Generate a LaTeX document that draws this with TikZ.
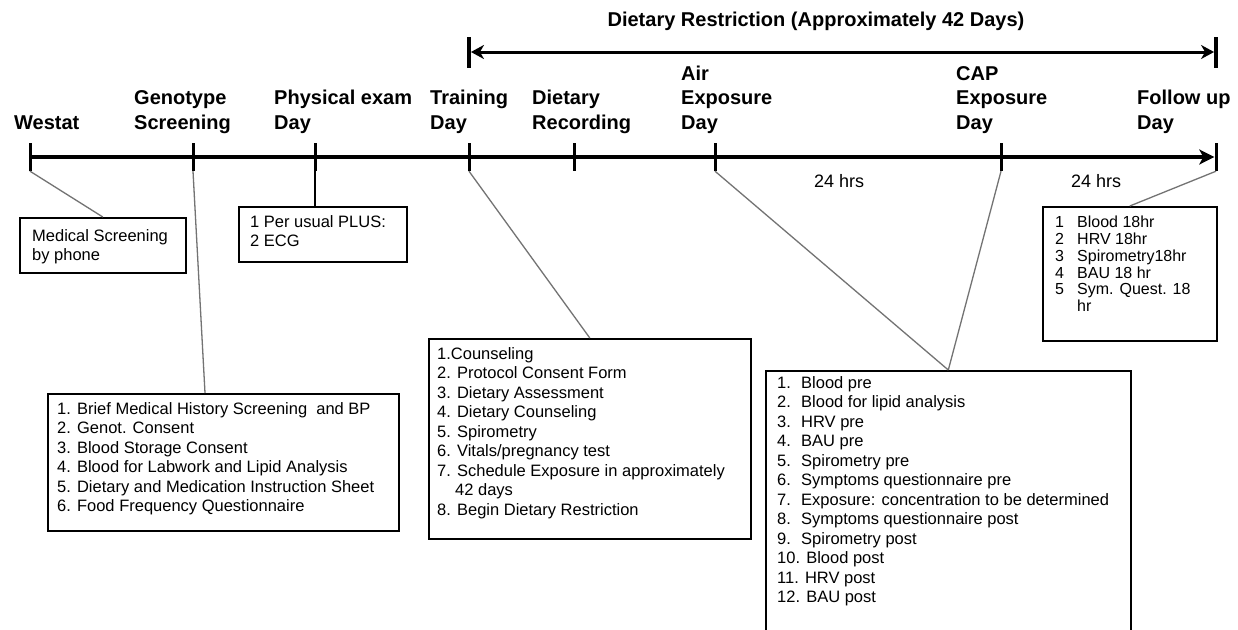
\documentclass[tikz,border=0pt]{standalone}
\usepackage{fontspec}
\setmainfont{Liberation Sans}
\usetikzlibrary{arrows.meta,positioning}

\begin{document}
\begin{tikzpicture}[
        x = 1pt,
        y = -1pt,
        tick/.style = {
                fill=black,
                minimum width=3pt,
                minimum height=28pt,
                inner sep=0pt,
            },
        bar/.style = {
                fill=black,
                minimum width=3.5pt,
                minimum height=31pt,
                inner sep=0pt,
            },
        daylbl/.style = {
                anchor=base west,
                align=left,
                inner sep=0pt,
                font=\fontsize{20}{24.5}\selectfont\bfseries,
            },
        frame/.style = {
                draw,
                line width=1.6pt,
                inner sep=0pt,
                anchor=north west,
            },
        itemtxt/.style = {
                anchor=north west,
                align=left,
                inner sep=0pt,
                font=\fontsize{16.5}{19.5}\selectfont,
            },
        hrs/.style = {
                inner sep=0pt,
                font=\fontsize{18}{20}\selectfont,
            },
        link/.style = {
                draw=black!55,
                line width=1.3pt,
            },
    ]
    \useasboundingbox (0,0) rectangle (1238,629);
    \clip (0,0) rectangle (1238,629);
    \fill[white] (0,0) rectangle (1238,629);

    \node[daylbl, anchor=base] (ttl) at (816,27) {Dietary Restriction (Approximately 42 Days)};
    \node[bar] (B-1) at (469,52) {};
    \node[bar] (B-2) at (1216,52) {};
    \draw[line width=3pt,
    {Stealth[length=13pt,width=14pt,inset=4pt]}-{Stealth[length=13pt,width=14pt,inset=4pt]}]
    (B-1.east) -- (B-2.west);

    \foreach \x [count=\j] in {30,193,315,469,574,715,1001,1216}
    \node[tick] (T-\j) at (\x,157) {};
    \draw[line width=4.5pt, -{Stealth[length=15pt,width=15pt,inset=4pt]}]
    (T-1.center) -- (T-8.west);

    \node[daylbl] (L-1) at (14,129) {Westat};
    \node[daylbl] (L-2) at (134,129) {Genotype\\Screening};
    \node[daylbl] (L-3) at (274,129) {Physical exam\\Day};
    \node[daylbl] (L-4) at (430,129) {Training\\Day};
    \node[daylbl] (L-5) at (532,129) {Dietary\\Recording};
    \node[daylbl] (L-6) at (681,129) {Air\\Exposure\\Day};
    \node[daylbl] (L-7) at (956,129) {CAP\\Exposure\\Day};
    \node[daylbl] (L-8) at (1137,129) {Follow up\\Day};
    \node[hrs] (H-1) at (839,181) {24 hrs};
    \node[hrs] (H-2) at (1096,181) {24 hrs};

    \begin{scope}[every node/.append style={frame}]
        \node[minimum width=166pt, minimum height=55pt] (bxMed) at (19,217) {};
        \node[minimum width=168pt, minimum height=55pt] (bxPhys) at (238,206) {};
        \node[minimum width=351pt, minimum height=137pt] (bxGen) at (47,393) {};
        \node[minimum width=322pt, minimum height=200pt] (bxTrn) at (428,338) {};
        \node[minimum width=365pt, minimum height=290pt] (bxExp) at (765,370) {};
        \node[minimum width=174pt, minimum height=134pt] (bxFol) at (1042,206) {};
    \end{scope}

    \draw[link] (T-1.south) -- (bxMed.north);
    \draw[link] (T-2.south) -- ([xshift=158pt]bxGen.north west);
    \draw[link, draw=black] (T-3.south) -- (T-3.south |- bxPhys.north);
    \draw[link] (T-4.south) -- (bxTrn.north);
    \draw[link] (T-6.south) -- (bxExp.north);
    \draw[link] (T-7.south) -- (bxExp.north);
    \draw[link] (T-8.south) -- (bxFol.north);

    \node[itemtxt] (txMed) at ([shift={(13,12)}]bxMed.north west) {Medical Screening\\by phone};
    \node[itemtxt] (txPhys) at ([shift={(12,9)}]bxPhys.north west) {1 Per usual PLUS:\\2 ECG};
    \node[itemtxt] (txGen) at ([shift={(10,9)}]bxGen.north west) {
        1. Brief Medical History Screening \ and BP\\
        2. Genot. Consent\\
        3. Blood Storage Consent\\
        4. Blood for Labwork and Lipid Analysis\\
        5. Dietary and Medication Instruction Sheet\\
        6. Food Frequency Questionnaire};
    \node[itemtxt] (txTrn) at ([shift={(9,9)}]bxTrn.north west) {
        1.Counseling\\
        2. Protocol Consent Form\\
        3. Dietary Assessment\\
        4. Dietary Counseling\\
        5. Spirometry\\
        6. Vitals/pregnancy test\\
        7. Schedule Exposure in approximately\\
        \hspace*{18pt}42 days\\
        8. Begin Dietary Restriction};
    \node[itemtxt] (txExp) at ([shift={(12,6)}]bxExp.north west) {
        \makebox[24pt][l]{1.}Blood pre\\
        \makebox[24pt][l]{2.}Blood for lipid analysis\\
        \makebox[24pt][l]{3.}HRV pre\\
        \makebox[24pt][l]{4.}BAU pre\\
        \makebox[24pt][l]{5.}Spirometry pre\\
        \makebox[24pt][l]{6.}Symptoms questionnaire pre\\
        \makebox[24pt][l]{7.}Exposure: concentration to be determined\\
        \makebox[24pt][l]{8.}Symptoms questionnaire post\\
        \makebox[24pt][l]{9.}Spirometry post\\
        10. Blood post\\
        11. HRV post\\
        12. BAU post};
    \node[itemtxt, font=\fontsize{16}{16.8}\selectfont] (txFol) at ([shift={(13,10)}]bxFol.north west) {
        \makebox[22pt][l]{1}Blood 18hr\\
        \makebox[22pt][l]{2}HRV 18hr\\
        \makebox[22pt][l]{3}Spirometry18hr\\
        \makebox[22pt][l]{4}BAU 18 hr\\
        \makebox[22pt][l]{5}Sym. Quest. 18\\
        \hspace*{22pt}hr};
\end{tikzpicture}
\end{document}
